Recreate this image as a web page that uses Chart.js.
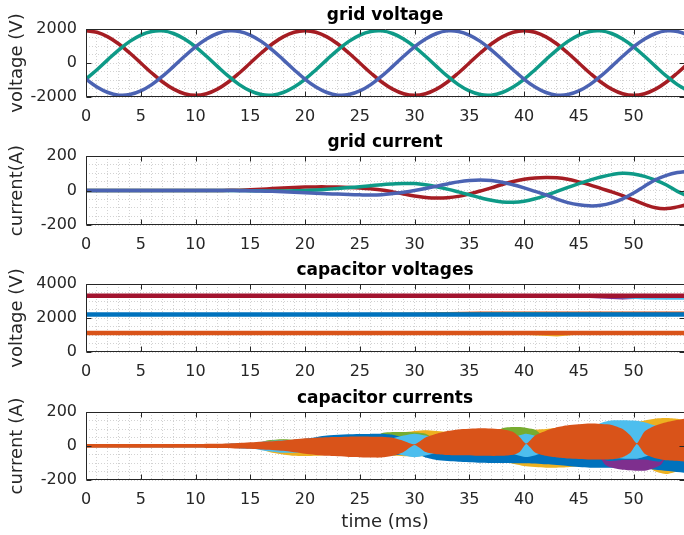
<!DOCTYPE html>
<html><head><meta charset="utf-8">
<script src="https://cdn.jsdelivr.net/npm/chart.js@4.4.1/dist/chart.umd.min.js"></script>
<style>
html,body{margin:0;padding:0;background:#fff;}
#wrap{position:relative;width:684px;height:535px;overflow:hidden;background:#fff;}
#wrap canvas{position:absolute;left:0;top:0;}
</style></head><body>
<div id="wrap">
<canvas id="c1" width="700" height="535"></canvas>
<canvas id="c2" width="700" height="535"></canvas>
<canvas id="c3" width="700" height="535"></canvas>
<canvas id="c4" width="700" height="535"></canvas>
</div>
<script>
// ---------- DATA ----------
const X_MAX = 54.6;
const xTickLabels = [0, 5, 10, 15, 20, 25, 30, 35, 40, 45, 50];

// grid voltage (V), sampled every 1 ms
const tGrid = [0,1,2,3,4,5,6,7,8,9,10,11,12,13,14,15,16,17,18,19,20,21,22,23,24,25,26,27,28,29,30,31,32,33,34,35,36,37,38,39,40,41,42,43,44,45,46,47,48,49,50,51,52,53,54,55];
const vRed = [1900,1807,1537,1117,587,0,-587,-1117,-1537,-1807,-1900,-1807,-1537,-1117,-587,0,587,1117,1537,1807,
              1900,1807,1537,1117,587,0,-587,-1117,-1537,-1807,-1900,-1807,-1537,-1117,-587,0,587,1117,1537,1807,
              1900,1807,1537,1117,587,0,-587,-1117,-1537,-1807,-1900,-1807,-1537,-1117,-587,0];
const vGreen = [-950,-395,199,773,1271,1645,1858,1890,1736,1412,950,395,-199,-773,-1271,-1645,-1858,-1890,-1736,-1412,
                -950,-395,199,773,1271,1645,1858,1890,1736,1412,950,395,-199,-773,-1271,-1645,-1858,-1890,-1736,-1412,
                -950,-395,199,773,1271,1645,1858,1890,1736,1412,950,395,-199,-773,-1271,-1645];
const vBlue = [-950,-1412,-1736,-1890,-1858,-1645,-1271,-773,-199,395,950,1412,1736,1890,1858,1645,1271,773,199,-395,
               -950,-1412,-1736,-1890,-1858,-1645,-1271,-773,-199,395,950,1412,1736,1890,1858,1645,1271,773,199,-395,
               -950,-1412,-1736,-1890,-1858,-1645,-1271,-773,-199,395,950,1412,1736,1890,1858,1645];
const vTicks = [-2000, 0, 2000];

// grid current (A), sampled every 1 ms
const iRed = [0,0,0,0,0,0,0,0,0,0,0,0,0,1,2,4,7,11,15,18,20,21,21,20,18,15,10,3,-8,-20,-32,-40,-44,-42,-34,-20,-3,15,35,52,65,73,76,74,65,50,33,12,-8,-30,-55,-80,-100,-105,-95,-80];
const iGreen = [0,0,0,0,0,0,0,0,0,0,0,0,0,0,0,-1,-2,-3,-3,-2,0,3,7,12,17,22,28,34,38,41,40,33,22,8,-8,-25,-42,-57,-66,-68,-62,-48,-28,-5,18,40,60,78,92,100,96,82,60,32,-5,-35];
const iBlue = [0,0,0,0,0,0,0,0,0,0,0,0,0,0,-1,-2,-3,-5,-7,-10,-13,-16,-19,-21,-23,-25,-26,-24,-18,-10,0,12,25,38,50,58,61,58,48,33,15,-5,-25,-50,-70,-83,-89,-86,-72,-48,-15,25,62,88,104,112];
const iTicks = [-200, 0, 200];

// capacitor voltages (V)
const tCap = [0,5,10,15,20,25,30,33,36,40,43,45,47,49,51,53,55];
const cv1 = [1100,1100,1100,1100,1100,1100,1100,1100,1100,1100,1100,1100,1100,1100,1100,1100,1100];
const cv2 = [2200,2200,2200,2200,2200,2200,2220,2270,2290,2290,2290,2300,2300,2290,2290,2290,2290];
const cv3 = [1110,1110,1110,1110,1110,1110,1110,1110,1110,1110,1000,1110,1110,1110,1110,1110,1110];
const cv4 = [3300,3300,3300,3300,3300,3300,3300,3300,3300,3300,3300,3300,3240,3180,3240,3300,3300];
const cv5 = [2200,2200,2200,2200,2200,2200,2220,2230,2240,2260,2240,2230,2230,2230,2220,2220,2220];
const cv6 = [3300,3300,3300,3300,3300,3300,3300,3300,3300,3300,3300,3300,3300,3250,3180,3160,3170];
const cv7 = [3310,3310,3310,3310,3310,3310,3310,3310,3310,3310,3310,3310,3310,3310,3310,3310,3310];
const cv8 = [2210,2210,2210,2210,2210,2210,2210,2210,2210,2210,2210,2210,2210,2210,2210,2210,2210];
const cv9 = [1120,1120,1120,1120,1120,1120,1120,1120,1120,1120,1120,1120,1120,1120,1120,1120,1120];
const cvTicks = [0, 2000, 4000];

// capacitor currents (A): switching ripple envelopes (upper / lower) per series
const tO = [0,10,12,14,16,18,20,22,24,26,27,28,29,30,31,32,33,34,36,38,39,39.6,40.2,41,42,43,44,46,48,49,49.7,50.3,51,52,53,55];
const oUp = [12,12,13,18,25,32,45,52,55,55,54,48,30,10,50,72,88,97,104,98,82,52,14,62,90,110,122,132,124,100,62,16,85,120,140,165];
const oLo = [-10,-10,-12,-15,-20,-28,-45,-58,-64,-68,-68,-58,-35,6,-35,-48,-53,-55,-58,-58,-52,-35,12,-38,-58,-68,-74,-80,-78,-66,-40,12,-45,-72,-84,-92];

const tB = [0,12,15,18,20,22,25,27,28,29,30,31,32,34,36,38,40,42,44,46,48,50,52,55];
const bUp = [10,12,18,30,42,62,70,72,66,48,10,0,0,0,0,0,0,0,0,0,0,0,0,0];
const bLo = [-8,-10,-15,-22,-30,-40,-50,-55,-55,-50,-40,-68,-82,-92,-98,-100,-102,-108,-118,-128,-128,-125,-140,-160];

const tL = [0,14,16,18,20,22,26,28,30,32,34,37,39,40.2,41.5,44,46,47,48,50.3,51.5,53,55];
const lUp = [0,0,25,34,30,0,0,45,72,45,0,0,50,72,50,0,90,135,150,148,130,100,80];
const lLo = [0,0,-25,-40,-35,0,0,-40,-66,-40,0,0,-45,-65,-45,0,-40,-60,-70,-75,-55,-40,-30];

const tG = [0,15,16.5,18,19.5,21,25,27,29,31,33,36,38,39.5,41,43,55];
const gUp = [0,0,32,40,32,0,0,75,82,72,0,0,105,112,95,0,0];
const gLo = [0,0,0,0,0,0,0,0,0,0,0,0,0,0,0,0,0];

const tY = [0,15,17,19,21,23,27,29,31,33,35,38,40,42,44,46,48,50,51,52,53,54,55];
const yUp = [0,0,5,10,20,40,60,80,92,82,60,70,90,100,110,120,130,140,150,162,165,160,150];
const yLo = [0,-5,-40,-58,-58,-45,-55,-60,-60,-60,-65,-90,-118,-128,-125,-110,-100,-100,-110,-150,-165,-150,-140];

const tP = [0,46,47.5,49,51,52.5,53.5,55];
const pUp = [0,0,-85,-82,-80,-90,0,0];
const pLo = [0,0,-115,-140,-145,-110,0,0];

const ccTicks = [-200, 0, 200];

// ---------- STYLE ----------
const FAMILY = "'DejaVu Sans', sans-serif";
const TXT = '#262626';
const C = {blue:'#0072BD', orange:'#D95319', yellow:'#EDB120', purple:'#7E2F8E',
           green:'#77AC30', lblue:'#4DBEEE', dred:'#A2142F'};
Chart.defaults.font.family = FAMILY;
Chart.defaults.color = TXT;

const pts = (t, v) => t.map((x, i) => ({x, y: v[i]}));
const lineDs = (t, v, color, w, tension) => ({data: pts(t, v), borderColor: color, borderWidth: w,
  pointRadius: 0, tension: tension, fill: false, clip: 0});
const bandDs = (t, up, lo, color) => [
  {data: pts(t, lo), borderWidth: 0, borderColor: 'rgba(0,0,0,0)', pointRadius: 0, tension: 0.2, fill: false, clip: 0},
  {data: pts(t, up), borderWidth: 0, borderColor: 'rgba(0,0,0,0)', backgroundColor: color, pointRadius: 0, tension: 0.2, fill: '-1', clip: 0}
];

const boxPlugin = {
  id: 'axbox',
  afterDraw(chart) {
    const {ctx, chartArea: a, scales: {x, y}} = chart;
    const lab = chart.options.plugins.axbox.yLabels;
    ctx.save();
    ctx.strokeStyle = TXT; ctx.lineWidth = 1;
    const L = Math.round(a.left) + 0.5, R = Math.round(a.right) + 0.5,
          T = Math.round(a.top) + 0.5, B = Math.round(a.bottom) - 0.5;
    ctx.beginPath(); ctx.rect(L, T, R - L, B - T); ctx.stroke();
    ctx.beginPath();
    x.ticks.forEach(t => {
      if (xTickLabels.includes(t.value)) {
        const px = Math.round(x.getPixelForValue(t.value)) + 0.5;
        ctx.moveTo(px, B); ctx.lineTo(px, B - 5); ctx.moveTo(px, T); ctx.lineTo(px, T + 5);
      }
    });
    y.ticks.forEach(t => {
      if (lab.includes(t.value)) {
        const py = Math.round(y.getPixelForValue(t.value)) + 0.5;
        ctx.moveTo(L, py); ctx.lineTo(L + 5, py); ctx.moveTo(R, py); ctx.lineTo(R - 5, py);
      }
    });
    ctx.stroke(); ctx.restore();
  }
};

function makeChart(id, cfg) {
  const xAxisH = cfg.xtitle ? 55 : 30;
  const padBottom = 535 - cfg.bottom - xAxisH;
  const titleBlock = 17 * 1.2 + 3;
  const padTop = cfg.top - titleBlock;
  const gridOpts = {color: '#d2d2d2', lineWidth: 1, drawTicks: false};
  const borderOpts = {display: false, dash: [1, 2]};
  return new Chart(document.getElementById(id), {
    type: 'line',
    data: {datasets: cfg.datasets},
    options: {
      responsive: false, animation: false, devicePixelRatio: 1,
      layout: {padding: {top: padTop, bottom: padBottom, left: 0, right: 16}},
      plugins: {
        legend: {display: false}, tooltip: {enabled: false},
        title: {display: true, text: cfg.title, fullSize: false, color: '#000',
                font: {size: 17, weight: 'bold', family: FAMILY}, padding: {top: 0, bottom: 3}},
        axbox: {yLabels: cfg.yLabels}
      },
      scales: {
        x: {type: 'linear', min: 0, max: X_MAX,
            afterFit: s => { s.height = xAxisH; },
            ticks: {stepSize: 1, autoSkip: false, maxTicksLimit: 200, maxRotation: 0, padding: 10,
                    font: {size: 16, family: FAMILY}, color: TXT,
                    callback: v => (xTickLabels.includes(v) ? String(v) : '')},
            grid: gridOpts, border: borderOpts,
            title: cfg.xtitle ? {display: true, text: cfg.xtitle, color: TXT, font: {size: 18, family: FAMILY},
                                 padding: {top: 0, bottom: 2}} : {display: false}},
        y: {type: 'linear', min: cfg.ymin, max: cfg.ymax,
            afterFit: s => { s.width = 86; },
            ticks: {stepSize: cfg.ystep, autoSkip: false, maxTicksLimit: 200, padding: 9,
                    font: {size: 16, family: FAMILY}, color: TXT,
                    callback: v => (cfg.yLabels.includes(v) ? String(v) : '')},
            grid: gridOpts, border: borderOpts,
            title: {display: true, text: cfg.ytitle, color: TXT, font: {size: 18, family: FAMILY},
                    padding: {top: 7, bottom: 0}}}
      }
    },
    plugins: [boxPlugin]
  });
}

makeChart('c1', {top: 29, bottom: 97, ymin: -2000, ymax: 2000, ystep: 500, yLabels: vTicks,
  title: 'grid voltage', ytitle: 'voltage (V)',
  datasets: [
    lineDs(tGrid, vBlue, '#4B63B3', 3.5, 0.4),
    lineDs(tGrid, vGreen, '#0E9A87', 3.5, 0.4),
    lineDs(tGrid, vRed, '#A51D23', 3.5, 0.4)
  ]});

makeChart('c2', {top: 156, bottom: 225, ymin: -200, ymax: 200, ystep: 50, yLabels: iTicks,
  title: 'grid current', ytitle: 'current(A)',
  datasets: [
    lineDs(tGrid, iBlue, '#4B63B3', 3.5, 0.4),
    lineDs(tGrid, iGreen, '#0E9A87', 3.5, 0.4),
    lineDs(tGrid, iRed, '#A51D23', 3.5, 0.4)
  ]});

makeChart('c3', {top: 284, bottom: 352, ymin: 0, ymax: 4000, ystep: 500, yLabels: cvTicks,
  title: 'capacitor voltages', ytitle: 'voltage (V)',
  datasets: [
    lineDs(tCap, cv9, C.orange, 4.5, 0),
    lineDs(tCap, cv8, C.blue, 4.5, 0),
    lineDs(tCap, cv7, C.dred, 4.5, 0),
    lineDs(tCap, cv6, C.lblue, 3, 0),
    lineDs(tCap, cv5, C.green, 3, 0),
    lineDs(tCap, cv4, C.purple, 3, 0),
    lineDs(tCap, cv3, C.yellow, 3, 0),
    lineDs(tCap, cv2, C.orange, 3, 0),
    lineDs(tCap, cv1, C.blue, 3, 0)
  ]});

makeChart('c4', {top: 412, bottom: 480, ymin: -200, ymax: 200, ystep: 50, yLabels: ccTicks,
  title: 'capacitor currents', ytitle: 'current (A)', xtitle: 'time (ms)',
  datasets: [].concat(
    bandDs(tO, oUp, oLo, C.orange),
    bandDs(tL, lUp, lLo, C.lblue),
    bandDs(tP, pUp, pLo, C.purple),
    bandDs(tB, bUp, bLo, C.blue),
    bandDs(tG, gUp, gLo, C.green),
    bandDs(tY, yUp, yLo, C.yellow)
  )});
</script>
</body></html>
